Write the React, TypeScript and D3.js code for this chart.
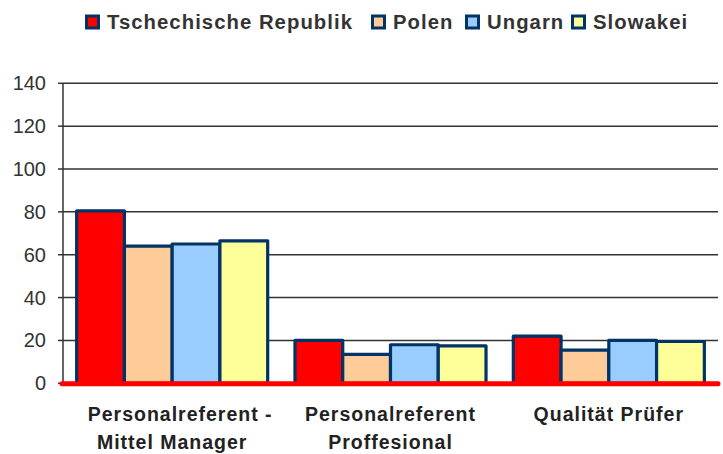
import React from "react";
import * as d3 from "d3";

const categories: string[][] = [
  ["Personalreferent -", "Mittel Manager"],
  ["Personalreferent", "Proffesional"],
  ["Qualität Prüfer"],
];
const seriesNames = ["Tschechische Republik", "Polen", "Ungarn", "Slowakei"];
const seriesColors = ["#FF0000", "#FFCC99", "#99CCFF", "#FFFF99"];
const tschechien = [80.5, 20, 22];
const polen = [64, 13.5, 15.5];
const ungarn = [65, 18, 20];
const slowakei = [66.5, 17.5, 19.5];
const values = [tschechien, polen, ungarn, slowakei];
const yTicks = [0, 20, 40, 60, 80, 100, 120, 140];

const W = 723, H = 454;
const left = 63, right = 718, top = 83.3, bottom = 383.3;
const font = "'Liberation Sans', Arial, Helvetica, sans-serif";
const legendX = [85, 371, 465, 571];

export default function App() {
  const y = d3.scaleLinear().domain([0, 140]).range([bottom, top]);
  const x0 = d3
    .scaleBand<number>()
    .domain(d3.range(categories.length))
    .range([left, right])
    .paddingInner(0.125)
    .paddingOuter(0.0625);
  const x1 = d3
    .scaleBand<number>()
    .domain(d3.range(seriesNames.length))
    .range([0, x0.bandwidth()])
    .padding(0);

  return (
    <svg
      width={W}
      height={H}
      style={{ position: "absolute", left: 0, top: 0, background: "#fff" }}
      fontFamily={font}
    >
      {/* legend */}
      {seriesNames.map((s, i) => (
        <g key={s} transform={`translate(${legendX[i]},0)`}>
          <rect x={1.5} y={16} width={12} height={12} fill={seriesColors[i]} stroke="#003366" strokeWidth={3} />
          <text x={22} y={29} fontSize={20.3} fontWeight="bold" fill="#333" letterSpacing={1.05}>
            {s}
          </text>
        </g>
      ))}
      {/* grid */}
      {yTicks.map((t) => (
        <g key={t}>
          {t > 0 && (
            <line x1={left} x2={right} y1={y(t)} y2={y(t)} stroke="#333" strokeWidth={1.5} />
          )}
          <line x1={58} x2={left} y1={y(t)} y2={y(t)} stroke="#333" strokeWidth={1.5} />
          <text x={46} y={y(t) + 7} fontSize={20} textAnchor="end" fill="#333">
            {t}
          </text>
        </g>
      ))}
      <line x1={left} x2={left} y1={top} y2={bottom} stroke="#333" strokeWidth={1.5} />
      {/* bars */}
      {categories.map((c, ci) => (
        <g key={ci} transform={`translate(${x0(ci)},0)`}>
          {values.map((vals, si) => (
            <rect
              key={si}
              x={x1(si)}
              y={y(vals[ci])}
              width={x1.bandwidth()}
              height={bottom - y(vals[ci])}
              fill={seriesColors[si]}
              stroke="#003366"
              strokeWidth={3.2}
              strokeLinejoin="round"
            />
          ))}
        </g>
      ))}
      {/* red base line */}
      <line x1={left - 1} x2={right} y1={bottom + 0.5} y2={bottom + 0.5} stroke="#FF0000" strokeWidth={5} strokeLinecap="round" />
      {/* x labels */}
      {categories.map((c, ci) => (
        <text
          key={ci}
          x={(x0(ci) as number) + x0.bandwidth() / 2}
          fontSize={19.5}
          fontWeight="bold"
          fill="#222"
          textAnchor="middle"
          letterSpacing={1}
        >
          {c.map((line, li) => (
            <tspan key={li} x={(x0(ci) as number) + x0.bandwidth() / 2 + (ci === 0 && li === 0 ? 8 : 0)} y={421 + li * 28}>
              {line}
            </tspan>
          ))}
        </text>
      ))}
    </svg>
  );
}
